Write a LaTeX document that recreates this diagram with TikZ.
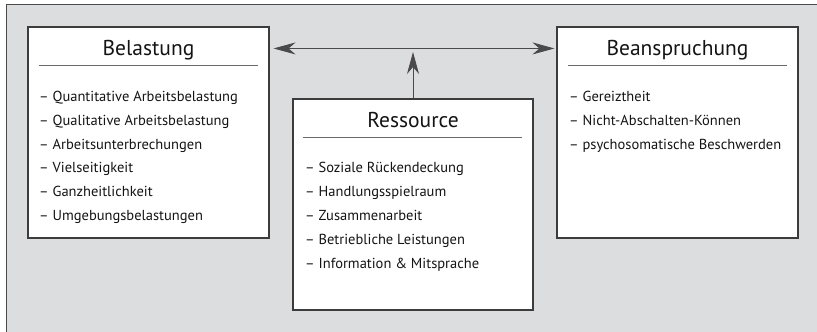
\documentclass[tikz,border=0pt]{standalone}
\usepackage{fontspec}
\setmainfont{PT Sans}
\usetikzlibrary{arrows.meta}
\definecolor{panel}{HTML}{DCDDDF}
\definecolor{frame}{HTML}{4A4A4A}
\definecolor{boxline}{HTML}{3C3C3C}
\definecolor{rulecol}{HTML}{6A6A6A}
\definecolor{txt}{HTML}{141414}
\tikzset{
  box/.style={draw=boxline, line width=1.1pt, fill=white, minimum width=241pt, minimum height=211pt, inner sep=0pt},
  title/.style={font=\fontsize{21.5}{24}\selectfont, text=txt, anchor=base, inner sep=0pt},
  item/.style={font=\fontsize{14.5}{17}\selectfont, text=txt, anchor=base west, inner sep=0pt},
  titlerule/.style={draw=rulecol, line width=1.2pt},
  arr/.style={draw=frame, line width=0.9pt, -{Stealth[length=22pt,width=12pt,inset=7pt]}},
  arrs/.style={draw=frame, line width=0.9pt, {Stealth[length=22pt,width=12pt,inset=7pt]}-{Stealth[length=22pt,width=12pt,inset=7pt]}}
}
\begin{document}
\begin{tikzpicture}[x=1pt,y=-1pt]
\useasboundingbox (0,0) rectangle (817,332);
\fill[white] (0,0) rectangle (817,332);
\fill[panel] (6.5,4.5) rectangle (820,335);
\draw[frame, line width=1.4pt] (6.5,335) -- (6.5,4.5) -- (820,4.5);

\node[box] (bel) at (148.5,132.5) {};
\node[box, minimum width=240pt] (res) at (413,204.5) {};
\node[box] (bean) at (677.5,132.5) {};

% titles
\node[title] (belt) at (148.5,55) {Belastung};
\node[title] (rest) at (413,127) {Ressource};
\node[title] (beant) at (677.5,55) {Beanspruchung};

\draw[titlerule] (39,65.7) -- (258,65.7);
\draw[titlerule] (303,137.5) -- (522,137.5);
\draw[titlerule] (568,65.7) -- (787,65.7);

% lists
\foreach \t [count=\i] in {Quantitative Arbeitsbelastung, Qualitative Arbeitsbelastung, Arbeitsunterbrechungen, Vielseitigkeit, Ganzheitlichkeit, Umgebungsbelastungen}
  \node[item] (bel\i) at (39, 101.5+23.8*\i-23.8) {– \t};
\foreach \t [count=\i] in {Soziale Rückendeckung, Handlungsspielraum, Zusammenarbeit, Betriebliche Leistungen, Information \& Mitsprache}
  \node[item] (res\i) at (305, 172.5+24*\i-24) {– \t};
\foreach \t [count=\i] in {Gereiztheit, Nicht-Abschalten-Können, psychosomatische Beschwerden}
  \node[item] (bean\i) at (569, 101.5+23.8*\i-23.8) {– \t};

% connectors
\coordinate (la) at ([shift={(4,22)}]bel.north east);
\coordinate (ra) at ([shift={(-2,22)}]bean.north west);
\coordinate (hit) at (res.north |- 0,52);
\draw[arrs] (la) -- (ra);
\draw[arr] (res.north) -- (hit);
\end{tikzpicture}
\end{document}
